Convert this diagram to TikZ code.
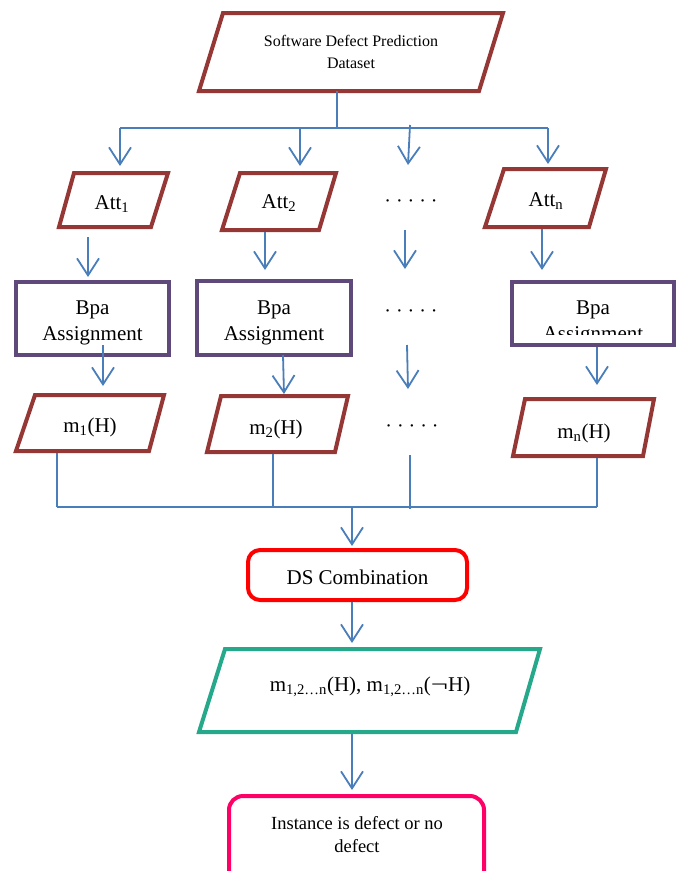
\documentclass[tikz,border=0pt]{standalone}
\usepackage{fontspec}
\usepackage{graphicx}
\setmainfont{Liberation Serif}
\usetikzlibrary{arrows.meta}
\definecolor{pred}{HTML}{953735}
\definecolor{bpurple}{HTML}{5F497A}
\definecolor{ablue}{HTML}{4A7EBB}
\definecolor{dsred}{HTML}{FF0000}
\definecolor{teal2}{HTML}{26A98B}
\definecolor{pink2}{HTML}{FF0066}
\tikzset{
  para/.style={draw=pred, line width=4pt, line join=miter},
  tealpara/.style={draw=teal2, line width=4pt, line join=miter},
  bpabox/.style={draw=bpurple, line width=4pt, rectangle, inner sep=0pt},
  arr/.style={draw=ablue, line width=1.8pt, -{Straight Barb[length=17pt,width=22pt]}},
  wire/.style={draw=ablue, line width=1.6pt},
  lbl/.style={inner sep=0pt, align=center, font=\fontsize{21}{26}\selectfont},
  dotlbl/.style={inner sep=0pt, font=\fontsize{20}{24}\selectfont},
}
\begin{document}
\begin{tikzpicture}[x=1pt,y=-1pt]
\useasboundingbox (0,0) rectangle (685,871);
\fill[white] (0,0) rectangle (685,871);
\clip (0,0) rectangle (685,871);

% top dataset
\draw[para] (223,13) -- (503,13) -- (479,91) -- (199,91) -- cycle;
\node[lbl, font=\fontsize{16}{22}\selectfont] (sdp) at (351,51.5) {Software Defect Prediction\\Dataset};
\coordinate (sdpb) at (337,91);
\coordinate (busTop) at (337,128);
\coordinate (bt1) at (120,128);
\coordinate (bt2) at (300,128);
\coordinate (bt3) at (410,125);
\coordinate (bt4) at (548,128);
\coordinate (at1) at (120,166);
\coordinate (at2) at (300,166);
\coordinate (at3) at (408,165);
\coordinate (at4) at (548,164);
\draw[wire] (sdpb) -- (busTop);
\draw[wire] (bt1) -- (bt4);
\draw[arr] (bt1) -- (at1);
\draw[arr] (bt2) -- (at2);
\draw[arr] (bt3) -- (at3);
\draw[arr] (bt4) -- (at4);

% attributes
\draw[para] (74,173) -- (168,173) -- (151,227) -- (59,227) -- cycle;
\node[lbl] (att1) at (112,204) {Att\textsubscript{1}};
\draw[para] (240,173) -- (336,173) -- (319,230) -- (222,230) -- cycle;
\node[lbl] (att2) at (279,203) {Att\textsubscript{2}};
\node[dotlbl] (dots1) at (411,204) {· · · · ·};
\draw[para] (504,169) -- (606,169) -- (589,227) -- (485,227) -- cycle;
\node[lbl] (attn) at (546,201) {Att\textsubscript{n}};

\coordinate (a1s) at (88,237);  \coordinate (b1n) at (88,277);
\coordinate (a2s) at (265,232); \coordinate (b2n) at (265,270);
\coordinate (d1s) at (405,230); \coordinate (d2n) at (405,269);
\coordinate (ans) at (542,229); \coordinate (bnn) at (542,270);
\draw[arr] (a1s) -- (b1n);
\draw[arr] (a2s) -- (b2n);
\draw[arr] (d1s) -- (d2n);
\draw[arr] (ans) -- (bnn);

% Bpa assignment
\node[bpabox, minimum width=153pt, minimum height=73pt] (bpa1) at (92.5,318.5) {};
\node[lbl] (bpa1t) at (92.5,323) {Bpa\\Assignment};
\node[bpabox, minimum width=154pt, minimum height=74pt] (bpa2) at (274,318) {};
\node[lbl] (bpa2t) at (274,323) {Bpa\\Assignment};
\node[dotlbl] (dots2) at (411,314) {· · · · ·};
\node[bpabox, minimum width=162pt, minimum height=63pt] (bpan) at (593,313.5) {};
\begin{scope}
  \clip (514,284) rectangle (672,334.5);
  \node[lbl] (bpantext) at (593,323) {Bpa\\Assignment};
\end{scope}

\coordinate (b1s) at (103,345); \coordinate (m1n) at (103,386);
\coordinate (b2s) at (283,355); \coordinate (m2n) at (284,394);
\coordinate (d2s) at (407,345); \coordinate (d3n) at (408,389);
\coordinate (bns) at (597,347); \coordinate (mnn) at (597,385);
\draw[arr] (b1s) -- (m1n);
\draw[arr] (b2s) -- (m2n);
\draw[arr] (d2s) -- (d3n);
\draw[arr] (bns) -- (mnn);

% m(H)
\draw[para] (35,395) -- (164,395) -- (149,451) -- (16,451) -- cycle;
\node[lbl] (m1) at (90,427) {m\textsubscript{1}(H)};
\draw[para] (221,396) -- (348,396) -- (335,452) -- (207,452) -- cycle;
\node[lbl] (m2) at (276,429) {m\textsubscript{2}(H)};
\node[dotlbl] (dots3) at (412,429) {· · · · ·};
\draw[para] (525,399) -- (654,399) -- (643,456) -- (513,456) -- cycle;
\node[lbl] (mn) at (584,433) {m\textsubscript{n}(H)};

\coordinate (m1s) at (57,453);  \coordinate (j1) at (57,507);
\coordinate (m2s) at (273,454); \coordinate (j2) at (273,507);
\coordinate (d3s) at (410,455); \coordinate (j3) at (410,509);
\coordinate (mns) at (597,458); \coordinate (j4) at (597,507);
\coordinate (jc) at (352,507);  \coordinate (dsn) at (352,546);
\draw[wire] (m1s) -- (j1);
\draw[wire] (m2s) -- (j2);
\draw[wire] (d3s) -- (j3);
\draw[wire] (mns) -- (j4);
\draw[wire] (j1) -- (j4);
\draw[arr] (jc) -- (dsn);

% DS combination
\node[draw=dsred, line width=4pt, rounded corners=12pt, minimum width=219pt, minimum height=50pt] (ds) at (357.5,575) {};
\node[lbl] (dst) at (357.5,577) {DS Combination};
\coordinate (dss) at (352,602); \coordinate (m12n) at (352,643);
\draw[arr] (dss) -- (m12n);

% combined mass
\draw[tealpara] (225,649) -- (540,649) -- (516,732) -- (199,732) -- cycle;
\node[lbl] (m12) at (370,687) {m\textsubscript{1,2…n}(H), m\textsubscript{1,2…n}(\scalebox{1.45}[1]{¬}H)};
\coordinate (m12s) at (352,734); \coordinate (insn) at (352,790);
\draw[arr] (m12s) -- (insn);

% result
\draw[draw=pink2, line width=4pt, rounded corners=14pt] (229,796) rectangle (484,890);
\node[lbl, font=\fontsize{18.5}{23}\selectfont] (inst) at (357,835) {Instance is defect or no\\defect};
\end{tikzpicture}
\end{document}
